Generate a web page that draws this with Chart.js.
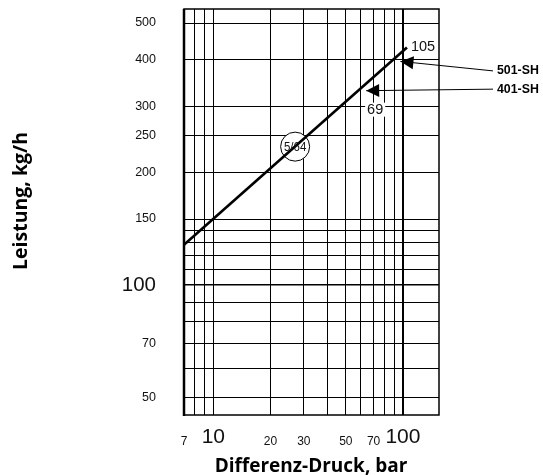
<!DOCTYPE html>
<html lang="de">
<head>
<meta charset="utf-8">
<title>Leistung / Differenz-Druck</title>
<script src="https://cdn.jsdelivr.net/npm/chart.js@4.4.1/dist/chart.umd.min.js"></script>
<style>
  html, body { margin: 0; padding: 0; background: #fff; }
  #holder { width: 543px; height: 475px; }
</style>
</head>
<body>
<div id="holder"><canvas id="chart"></canvas></div>
<script>
// capacity line (log-log)
const pressure = [7, 105];        // Differenz-Druck, bar
const capacity = [128, 430];      // Leistung, kg/h

// orifice marker on the line
const orificeLabel = '5/64';
const orificeAt = [27, 234];

// model arrows: where they point on the line, and max pressure labels
const models = ['501-SH', '401-SH'];
const modelTipX = [97, 64];
const modelTipY = [395, 330];
const maxPressure = ['105', '69'];

// axis grid and labels
const xGrid = [7, 8, 9, 10, 20, 30, 40, 50, 60, 70, 80, 90, 100];
const xLabels = [7, 10, 20, 30, 50, 70, 100];
const yGrid = [50, 60, 70, 80, 90, 100, 110, 120, 130, 140, 150, 200, 250, 300, 400, 500];
const yLabels = [50, 70, 100, 150, 200, 250, 300, 400, 500];
const bigTicks = [10, 100];

const SANS = "'Liberation Sans', Arial, sans-serif";
const TITLE = "'Open Sans', 'Liberation Sans', sans-serif";

// squeeze text horizontally, the reference uses a condensed face
function narrowText(ctx, txt, x, y, sx) {
  ctx.save();
  ctx.translate(x, y);
  ctx.scale(sx, 1);
  ctx.fillText(txt, 0, 0);
  ctx.restore();
}

const annotate = {
  id: 'annotate',
  beforeDatasetsDraw(chart) {
    const { ctx, chartArea: a } = chart;
    ctx.save();
    ctx.strokeStyle = '#000';
    ctx.lineWidth = 1.5;
    ctx.strokeRect(a.left, a.top, a.right - a.left, a.bottom - a.top);
    ctx.lineWidth = 2.5;
    ctx.beginPath();
    ctx.moveTo(a.left, a.top);
    ctx.lineTo(a.left, a.bottom + 1);
    ctx.stroke();
    ctx.restore();
  },
  afterDatasetsDraw(chart) {
    const { ctx, chartArea: a } = chart;
    const xs = chart.scales.x, ys = chart.scales.y;
    ctx.save();

    // text in the orifice circle
    ctx.fillStyle = '#111';
    ctx.font = '12.5px ' + SANS;
    ctx.textAlign = 'center';
    ctx.textBaseline = 'middle';
    narrowText(ctx, orificeLabel, xs.getPixelForValue(orificeAt[0]), ys.getPixelForValue(orificeAt[1]) + 0.5, 0.92);

    // 105 at end of line
    ctx.font = '14.5px ' + SANS;
    ctx.textAlign = 'left';
    ctx.fillText(maxPressure[0], xs.getPixelForValue(pressure[1]) + 4, ys.getPixelForValue(capacity[1]) - 1);

    // 69 below the 401-SH arrow, on white
    const t2x = xs.getPixelForValue(modelTipX[1]) + 9;
    const t2y = ys.getPixelForValue(modelTipY[1]) + 19;
    const w = ctx.measureText(maxPressure[1]).width;
    ctx.fillStyle = '#fff';
    ctx.fillRect(t2x - w / 2 - 2, t2y - 7, w + 4, 14);
    ctx.fillStyle = '#111';
    ctx.textAlign = 'center';
    ctx.fillText(maxPressure[1], t2x, t2y);

    // arrows with model names
    const labelDy = [9.5, -1.5];
    ctx.strokeStyle = '#000';
    ctx.fillStyle = '#000';
    ctx.lineWidth = 1;
    models.forEach((m, i) => {
      const tx = xs.getPixelForValue(modelTipX[i]);
      const ty = ys.getPixelForValue(modelTipY[i]);
      const ex = a.right + 54;
      const ey = ty + labelDy[i];
      const ang = Math.atan2(ey - ty, ex - tx);
      ctx.beginPath();
      ctx.moveTo(tx, ty);
      ctx.lineTo(ex, ey);
      ctx.stroke();
      const len = 13, hw = 6.5;
      const bx = tx + Math.cos(ang) * len, by = ty + Math.sin(ang) * len;
      ctx.beginPath();
      ctx.moveTo(tx, ty);
      ctx.lineTo(bx - Math.sin(ang) * hw, by + Math.cos(ang) * hw);
      ctx.lineTo(bx + Math.sin(ang) * hw, by - Math.cos(ang) * hw);
      ctx.closePath();
      ctx.fill();
      ctx.font = 'bold 13px ' + SANS;
      ctx.textAlign = 'left';
      ctx.textBaseline = 'middle';
      narrowText(ctx, m, ex + 4, ey, 0.95);
    });

    // axis titles
    ctx.font = 'bold 19px ' + TITLE;
    ctx.textAlign = 'center';
    ctx.textBaseline = 'alphabetic';
    ctx.fillText('Differenz-Druck, bar', 311, 472);
    ctx.font = 'bold 19.5px ' + TITLE;
    ctx.translate(27, 201);
    ctx.rotate(-Math.PI / 2);
    ctx.fillText('Leistung, kg/h', 0, 0);
    ctx.restore();
  }
};

new Chart(document.getElementById('chart'), {
  type: 'scatter',
  data: {
    datasets: [
      {
        data: pressure.map((p, i) => ({ x: p, y: capacity[i] })),
        showLine: true,
        borderColor: '#000',
        borderWidth: 2.6,
        pointRadius: 0
      },
      {
        data: [{ x: orificeAt[0], y: orificeAt[1] }],
        pointRadius: 14.5,
        pointBackgroundColor: '#fff',
        pointBorderColor: '#000',
        pointBorderWidth: 1
      }
    ]
  },
  options: {
    responsive: true,
    maintainAspectRatio: false,
    animation: false,
    layout: { autoPadding: false, padding: { left: 0, right: 104, top: 9, bottom: 0 } },
    plugins: { legend: { display: false }, tooltip: { enabled: false } },
    scales: {
      x: {
        type: 'logarithmic',
        min: 7,
        max: 155,
        border: { display: false },
        grid: {
          color: '#000',
          drawTicks: false,
          lineWidth: (c) => (c.tick && c.tick.value === 100 ? 2 : 1)
        },
        afterBuildTicks: (axis) => { axis.ticks = xGrid.map(v => ({ value: v })); },
        afterFit: (axis) => {
          axis.height = 60;
          axis.paddingLeft = 0;
          axis.paddingRight = 0;
        },
        ticks: {
          autoSkip: false,
          maxRotation: 0,
          padding: 10,
          color: '#111',
          callback: (v) => (xLabels.includes(v) ? String(v) : ''),
          font: (c) => (c.tick && bigTicks.includes(c.tick.value)
            ? { family: SANS, size: 21, lineHeight: 1.2 }
            : { family: SANS, size: 12, lineHeight: 2.7 })
        }
      },
      y: {
        type: 'logarithmic',
        min: 45,
        max: 545,
        border: { display: false },
        grid: {
          color: '#000',
          drawTicks: false,
          lineWidth: (c) => (c.tick && c.tick.value === 100 ? 1.5 : 1)
        },
        afterBuildTicks: (axis) => { axis.ticks = yGrid.map(v => ({ value: v })); },
        afterFit: (axis) => {
          axis.width = 184;
          axis.paddingTop = 0;
          axis.paddingBottom = 0;
        },
        ticks: {
          autoSkip: false,
          padding: 28,
          color: '#111',
          callback: (v) => (yLabels.includes(v) ? String(v) : ''),
          font: (c) => (c.tick && c.tick.value === 100
            ? { family: SANS, size: 20.5 }
            : { family: SANS, size: 12.5 })
        }
      }
    }
  },
  plugins: [annotate]
});
</script>
</body>
</html>
